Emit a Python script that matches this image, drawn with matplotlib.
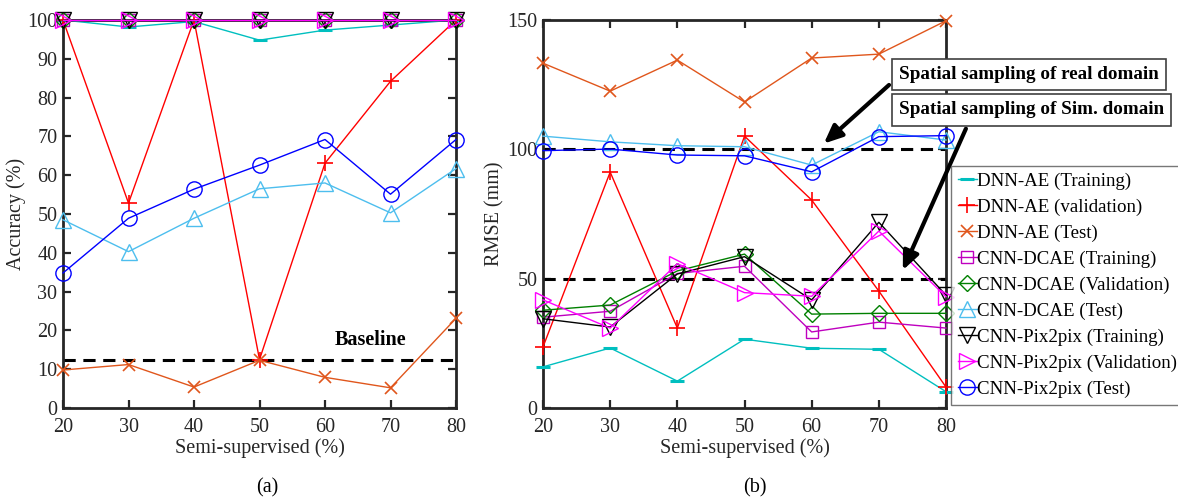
import matplotlib
matplotlib.use("Agg")
import matplotlib.pyplot as plt
from matplotlib.lines import Line2D

plt.rcParams['font.family'] = ['Liberation Serif', 'DejaVu Serif']
FS = 14.5
FS_LEG = 13.6
FS_ANN = 13.8
plt.rcParams['font.size'] = FS

x = [20, 30, 40, 50, 60, 70, 80]

labels = ["DNN-AE (Training)", "DNN-AE (validation)", "DNN-AE (Test)",
          "CNN-DCAE (Training)", "CNN-DCAE (Validation)", "CNN-DCAE (Test)",
          "CNN-Pix2pix (Training)", "CNN-Pix2pix (Validation)", "CNN-Pix2pix (Test)"]

# (a) Accuracy (%)
acc_dnn_train = [100, 98.2, 99.6, 94.8, 97.4, 98.7, 100]
acc_dnn_val = [100, 52.8, 100, 12.5, 63.1, 84.2, 100]
acc_dnn_test = [9.8, 11.2, 5.4, 12.3, 7.9, 5.2, 23.1]
acc_dcae_train = [100, 100, 100, 100, 100, 100, 100]
acc_dcae_val = [100, 100, 100, 100, 100, 100, 100]
acc_dcae_test = [48.5, 40.3, 48.9, 56.5, 58.0, 50.3, 61.7]
acc_pix_train = [100, 100, 100, 100, 100, 100, 100]
acc_pix_val = [100, 100, 100, 100, 100, 100, 100]
acc_pix_test = [34.8, 48.9, 56.4, 62.6, 69.2, 55.1, 69.2]

# (b) RMSE (mm)
rmse_dnn_train = [15.9, 23.2, 10.4, 26.6, 23.1, 22.7, 6.3]
rmse_dnn_val = [23.6, 91.2, 30.9, 105.1, 80.4, 45.2, 8.1]
rmse_dnn_test = [133.3, 122.5, 134.5, 118.3, 135.3, 136.8, 149.7]
rmse_dcae_train = [35.1, 37.4, 52.0, 54.8, 29.4, 33.2, 30.9]
rmse_dcae_val = [37.8, 39.8, 53.0, 59.5, 36.3, 36.6, 36.6]
rmse_dcae_test = [105.1, 102.9, 101.4, 101.0, 93.9, 106.8, 103.6]
rmse_pix_train = [34.5, 31.3, 51.8, 58.5, 41.8, 71.8, 43.6]
rmse_pix_val = [41.8, 30.9, 55.8, 44.6, 43.2, 68.4, 43.0]
rmse_pix_test = [99.5, 100.1, 97.8, 97.5, 91.3, 104.9, 105.3]

baseline_acc = 12.5
ref_real = 100
ref_sim = 50

styles = [
    dict(color='#00BFBF', marker='_', ms=10, mew=2.2),
    dict(color='#FF0000', marker='+', ms=12, mew=1.2),
    dict(color='#E0561C', marker='x', ms=8, mew=1.2),
    dict(color='#BF00BF', marker='s', ms=9, mfc='none', mew=1.0),
    dict(color='#008000', marker='D', ms=8, mfc='none', mew=1.0),
    dict(color='#4DBEEE', marker='^', ms=11, mfc='none', mew=1.0),
    dict(color='#000000', marker='v', ms=11, mfc='none', mew=1.0),
    dict(color='#FF00FF', marker='>', ms=11, mfc='none', mew=1.0),
    dict(color='#0000FF', marker='o', ms=11, mfc='none', mew=1.0),
]

acc_series = [acc_dnn_train, acc_dnn_val, acc_dnn_test, acc_dcae_train, acc_dcae_val,
              acc_dcae_test, acc_pix_train, acc_pix_val, acc_pix_test]
rmse_series = [rmse_dnn_train, rmse_dnn_val, rmse_dnn_test, rmse_dcae_train, rmse_dcae_val,
               rmse_dcae_test, rmse_pix_train, rmse_pix_val, rmse_pix_test]

fig = plt.figure(figsize=(11.78, 4.99), dpi=100)
ax1 = fig.add_axes([63/1178, 1-408/499, (456-63)/1178, (408-20)/499])
ax2 = fig.add_axes([543/1178, 1-408/499, (946-543)/1178, (408-20)/499])


def style_ax(ax):
    for s in ax.spines.values():
        s.set_linewidth(2.0)
        s.set_color('#262626')
    ax.tick_params(direction='in', top=True, right=True, length=6, width=1.6,
                   labelsize=FS, colors='#262626')
    ax.tick_params(axis='x', pad=7)
    ax.tick_params(axis='y', pad=4)


handles = []
for vals, st, lab in zip(acc_series, styles, labels):
    ax1.plot(x, vals, lw=1.0, clip_on=False, zorder=3, **st)
ax1.axhline(baseline_acc, color='black', ls=(0, (4, 2.5)), lw=2.2, zorder=2)
ax1.text(67, 17.5, "Baseline", ha='center', va='center', fontweight='bold', fontsize=FS)
ax1.set_xlim(20, 80)
ax1.set_ylim(0, 100)
ax1.set_xticks(x)
ax1.set_yticks(range(0, 101, 10))
ax1.set_xlabel("Semi-supervised (%)", fontsize=FS, color='#262626', labelpad=1)
ax1.set_ylabel("Accuracy (%)", fontsize=FS, color='#262626', labelpad=1)
style_ax(ax1)

for vals, st, lab in zip(rmse_series, styles, labels):
    ax2.plot(x, vals, lw=1.0, clip_on=False, zorder=3, **st)
    handles.append(Line2D([], [], lw=1.0, label=lab, **st))
ax2.axhline(ref_real, color='black', ls=(0, (4, 2.5)), lw=2.2, zorder=2)
ax2.axhline(ref_sim, color='black', ls=(0, (4, 2.5)), lw=2.2, zorder=2)
ax2.set_xlim(20, 80)
ax2.set_ylim(0, 150)
ax2.set_xticks(x)
ax2.set_yticks([0, 50, 100, 150])
ax2.set_xlabel("Semi-supervised (%)", fontsize=FS, color='#262626', labelpad=1)
ax2.set_ylabel("RMSE (mm)", fontsize=FS, color='#262626', labelpad=2)
style_ax(ax2)

bbox = dict(boxstyle='square,pad=0.38', fc='white', ec='#404040', lw=1.2)
ax2.annotate("Spatial sampling of real domain", xy=(61.5, 101.5), xytext=(73.0, 129.0),
             fontsize=FS_ANN, fontweight='bold', ha='left', va='center', bbox=bbox,
             arrowprops=dict(arrowstyle='-|>,head_length=0.8,head_width=0.35', color='black',
                             lw=3, relpos=(0.0, 0.4)),
             annotation_clip=False, zorder=6)
ax2.annotate("Spatial sampling of Sim. domain", xy=(73.4, 52.3), xytext=(73.0, 115.3),
             fontsize=FS_ANN, fontweight='bold', ha='left', va='center', bbox=bbox,
             arrowprops=dict(arrowstyle='-|>,head_length=0.8,head_width=0.35', color='black',
                             lw=3, relpos=(0.27, 0.0)),
             annotation_clip=False, zorder=6)

leg = fig.legend(handles=handles, loc='upper left', bbox_to_anchor=(951/1178, 1-166/499),
                 fontsize=FS_LEG, frameon=True, fancybox=False, edgecolor='#555555',
                 handlelength=1.0, handletextpad=0.05, borderpad=0.35, labelspacing=0.46,
                 borderaxespad=0)
leg.get_frame().set_linewidth(1.0)

fig.text(267/1178, 1-488/499, "(a)", ha='center', va='center', fontsize=FS)
fig.text(755/1178, 1-488/499, "(b)", ha='center', va='center', fontsize=FS)

fig.savefig("out.png", dpi=100)
